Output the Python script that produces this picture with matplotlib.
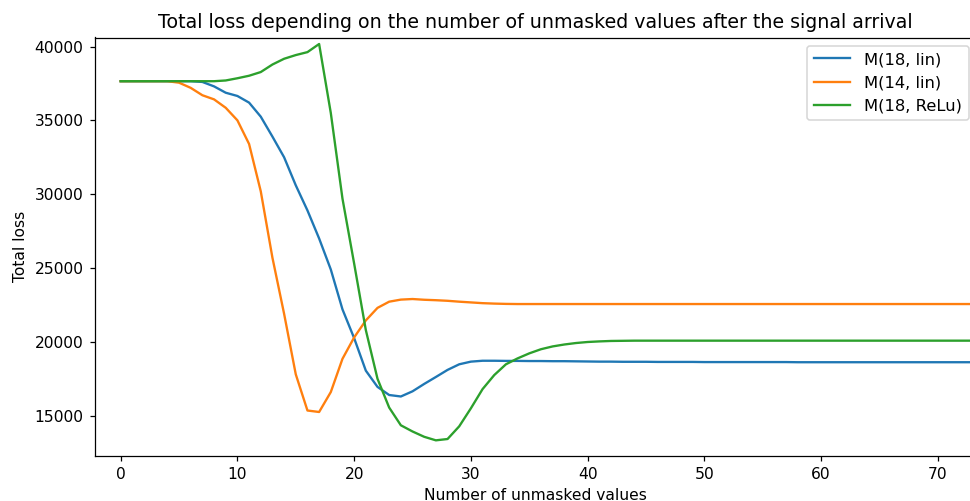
#!/usr/bin/env python3
"""Total loss vs number of unmasked values after the signal arrival."""
import matplotlib
matplotlib.use("Agg")
import matplotlib.pyplot as plt
import numpy as np

# values, one per integer step
n_unmasked = np.arange(75)

loss_m18_lin = [
    37650, 37650, 37650, 37650, 37650, 37650, 37650, 37600, 37300, 36870,
    36650, 36200, 35250, 33900, 32500, 30600, 28900, 27000, 24900, 22200,
    20250, 18050, 16950, 16400, 16300, 16650, 17150, 17620, 18100, 18480,
    18660, 18720, 18720, 18710, 18710, 18700, 18700, 18690, 18690, 18680,
    18670, 18660, 18660, 18650, 18650, 18650, 18640, 18640, 18640, 18640,
    18630, 18630, 18630, 18630, 18630, 18630, 18630, 18630, 18620, 18620,
    18620, 18620, 18620, 18620, 18620, 18620, 18620, 18620, 18620, 18620,
    18620, 18620, 18620, 18620, 18620,
]

loss_m14_lin = [
    37650, 37650, 37650, 37650, 37650, 37550, 37200, 36700, 36420, 35850,
    35000, 33400, 30200, 25700, 21900, 17800, 15350, 15250, 16600, 18850,
    20300, 21450, 22300, 22720, 22860, 22900, 22850, 22820, 22780, 22720,
    22670, 22620, 22590, 22570, 22560, 22560, 22560, 22560, 22560, 22560,
    22560, 22560, 22560, 22560, 22560, 22560, 22560, 22560, 22560, 22560,
    22560, 22560, 22560, 22560, 22560, 22560, 22560, 22560, 22560, 22560,
    22560, 22560, 22560, 22560, 22560, 22560, 22560, 22560, 22560, 22560,
    22560, 22560, 22560, 22560, 22560,
]

loss_m18_relu = [
    37650, 37650, 37650, 37650, 37650, 37650, 37650, 37650, 37650, 37700,
    37850, 38020, 38270, 38780, 39170, 39420, 39620, 40170, 35500, 29700,
    25300, 20800, 17500, 15550, 14350, 13930, 13570, 13330, 13420, 14280,
    15500, 16800, 17750, 18480, 18880, 19220, 19500, 19690, 19820, 19920,
    19990, 20030, 20060, 20070, 20080, 20080, 20080, 20080, 20080, 20080,
    20080, 20080, 20080, 20080, 20080, 20080, 20080, 20080, 20080, 20080,
    20080, 20080, 20080, 20080, 20080, 20080, 20080, 20080, 20080, 20080,
    20080, 20080, 20080, 20080, 20080,
]

series = [
    ("M(18, lin)", loss_m18_lin),
    ("M(14, lin)", loss_m14_lin),
    ("M(18, ReLu)", loss_m18_relu),
]

DPI = 112  # text and lines in the reference are ~12% larger than at 100 dpi
W, H = 970, 501

fig = plt.figure(figsize=(W / DPI, H / DPI), dpi=DPI)
# the reference is cropped on the right, so the axes run past the figure edge
ax = fig.add_axes([94.5 / W, 1 - 455.7 / H, (977 - 94.5) / W, (455.7 - 37.5) / H])

for label, vals in series:
    ax.plot(n_unmasked, vals, label=label)

ax.set_xlim(-2.24, 73.35)
ax.set_ylim(12290, 40610)
ax.set_xticks(np.arange(0, 71, 10))
ax.set_yticks(np.arange(15000, 40001, 5000))
ax.set_xlabel("Number of unmasked values")
ax.set_ylabel("Total loss")
ax.set_title("Total loss depending on the number of unmasked values after the signal arrival",
             fontsize=12.2)
ax.legend(loc="upper right", fontsize=10.5, handlelength=2.2, handletextpad=0.9)

fig.savefig("out.png", dpi=DPI)
plt.close(fig)
